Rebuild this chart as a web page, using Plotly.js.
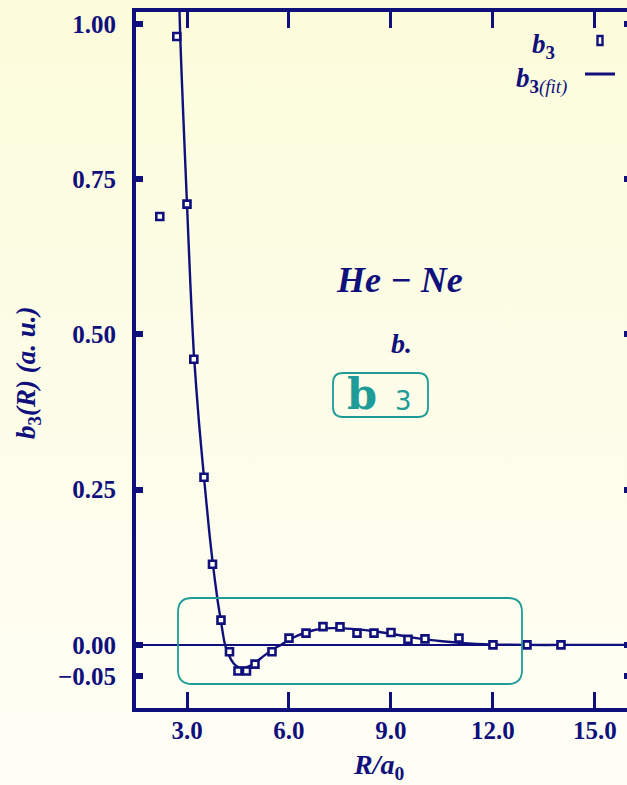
<!DOCTYPE html>
<html>
<head>
<meta charset="utf-8">
<script src="https://cdn.plot.ly/plotly-3.0.1.min.js"></script>
<style>
  html, body { margin: 0; padding: 0; overflow: hidden; width: 627px; height: 785px;
    background: linear-gradient(to bottom, #fcfcdb 0%, #fdfde9 50%, #fefef6 100%); }
  #chart { width: 631px; height: 785px; }
</style>
</head>
<body>
<div id="chart"></div>
<script>
// Computed b3 coefficients for He-Ne versus internuclear distance R (a0)
const R_points = [2.2, 2.7, 3.0, 3.2, 3.5, 3.75, 4.0, 4.25, 4.5, 4.75, 5.0, 5.5, 6.0, 6.5,
                  7.0, 7.5, 8.0, 8.5, 9.0, 9.5, 10.0, 11.0, 12.0, 13.0, 14.0];
const b3_points = [0.69, 0.98, 0.71, 0.46, 0.27, 0.13, 0.04, -0.011, -0.042, -0.042, -0.031,
                   -0.011, 0.011, 0.019, 0.0295, 0.029, 0.019, 0.019, 0.02, 0.009, 0.0097,
                   0.011, 0.0, 0.0, 0.0];

// Fitted b3(R) curve
const R_fit = [2.74, 2.8, 2.9, 3.0, 3.1, 3.2, 3.35, 3.5, 3.65, 3.75, 3.9, 4.0, 4.12, 4.3,
               4.45, 4.6, 4.8, 5.0, 5.25, 5.5, 5.76, 6.0, 6.25, 6.5, 6.75, 7.0, 7.25, 7.5,
               8.0, 8.5, 9.0, 9.5, 10.0, 10.5, 11.0, 11.5, 12.0, 13.0, 14.0, 16.1];
const b3_fit = [1.1, 0.98, 0.84, 0.71, 0.58, 0.47, 0.36, 0.27, 0.185, 0.135, 0.072, 0.038,
                0.0, -0.024, -0.034, -0.037, -0.035, -0.029, -0.018, -0.008, 0.0, 0.008,
                0.015, 0.02, 0.024, 0.026, 0.027, 0.027, 0.025, 0.022, 0.018, 0.013, 0.009,
                0.006, 0.0035, 0.0015, 0.0005, 0.0, 0.0, 0.0];

const xTicks = [3, 6, 9, 12, 15];
const xTickText = ['3.0', '6.0', '9.0', '12.0', '15.0'];
const yTicks = [-0.05, 0, 0.25, 0.5, 0.75, 1.0];
const yTickText = ['\u22120.05', '0.00', '0.25', '0.50', '0.75', '1.00'];

const NAVY = '#10107c';
const TEAL = '#1f9c97';
const SERIF = 'Liberation Serif, Times New Roman, serif';

const W = 631, H = 785;
const M = { l: 136, r: 0, t: 12, b: 77 };
const xRange = [1.5, 16.06];
const yRange = [-0.1016, 1.0194];

// pixel helpers for decorations
const pw = W - M.l - M.r, ph = H - M.t - M.b;
const px2x = p => xRange[0] + (p - M.l) / pw * (xRange[1] - xRange[0]);
const py2y = p => yRange[1] - (p - M.t) / ph * (yRange[1] - yRange[0]);
const px2paper = p => (p - M.l) / pw;
const py2paper = p => (H - M.b - p) / ph;

// rounded rectangle path in data coordinates, from pixel corners and radius
function roundRect(pxa, pya, pxb, pyb, r) {
  const x0 = px2x(pxa), x1 = px2x(pxb), yT = py2y(pya), yB = py2y(pyb);
  const rx = r / pw * (xRange[1] - xRange[0]);
  const ry = r / ph * (yRange[1] - yRange[0]);
  return `M${x0 + rx},${yT} L${x1 - rx},${yT} Q${x1},${yT} ${x1},${yT - ry} ` +
         `L${x1},${yB + ry} Q${x1},${yB} ${x1 - rx},${yB} L${x0 + rx},${yB} ` +
         `Q${x0},${yB} ${x0},${yB + ry} L${x0},${yT - ry} Q${x0},${yT} ${x0 + rx},${yT} Z`;
}

// text placed at a pixel position, centred on it
function label(px, py, text, font, extra) {
  return Object.assign({ xref: 'paper', yref: 'paper', x: px2paper(px), y: py2paper(py),
    xanchor: 'center', yanchor: 'middle', showarrow: false, text: text, font: font }, extra || {});
}

const traces = [
  {
    x: R_fit, y: b3_fit, type: 'scatter', mode: 'lines', name: 'b3(fit)',
    line: { color: NAVY, width: 2.4, shape: 'spline', smoothing: 0.7 },
    hoverinfo: 'skip'
  },
  {
    x: R_points, y: b3_points, type: 'scatter', mode: 'markers', name: 'b3',
    marker: { symbol: 'square', size: 7, color: '#fffff4', line: { color: NAVY, width: 2.6 } },
    cliponaxis: false
  }
];

const axisCommon = {
  showgrid: false, showline: true, linecolor: NAVY, linewidth: 4, mirror: 'ticks',
  ticks: 'inside', tickcolor: NAVY, tickmode: 'array',
  tickfont: { family: SERIF, size: 25, color: NAVY, weight: 'bold' }
};

const layout = {
  width: W, height: H, margin: M,
  paper_bgcolor: 'rgba(0,0,0,0)', plot_bgcolor: 'rgba(0,0,0,0)',
  showlegend: false,
  xaxis: Object.assign({}, axisCommon, {
    range: xRange, tickvals: xTicks, ticktext: xTickText,
    ticklen: 16, tickwidth: 3, zeroline: false, ticklabelstandoff: -3
  }),
  yaxis: Object.assign({}, axisCommon, {
    range: yRange, tickvals: yTicks, ticktext: yTickText,
    ticklen: 7, tickwidth: 6, ticklabelstandoff: 11,
    zeroline: true, zerolinecolor: NAVY, zerolinewidth: 2
  }),
  shapes: [
    { type: 'path', xref: 'x', yref: 'y', path: roundRect(178, 598, 522, 684, 14),
      line: { color: TEAL, width: 1.8 } },
    { type: 'path', xref: 'x', yref: 'y', path: roundRect(333, 373, 428, 417, 10),
      line: { color: TEAL, width: 1.8 } },
    // legend keys
    { type: 'rect', xref: 'paper', yref: 'paper',
      x0: px2paper(597.5), x1: px2paper(602.5), y0: py2paper(45), y1: py2paper(36),
      fillcolor: '#fffff4', line: { color: NAVY, width: 2.4 } },
    { type: 'line', xref: 'paper', yref: 'paper',
      x0: px2paper(585), x1: px2paper(615), y0: py2paper(74), y1: py2paper(74),
      line: { color: NAVY, width: 3 } }
  ],
  annotations: [
    label(399, 280, '<b><i>He \u2212 Ne</i></b>', { family: SERIF, size: 36, color: NAVY }),
    label(401, 343, '<b><i>b.</i></b>', { family: SERIF, size: 28, color: NAVY }),
    label(362, 394, '<b>b</b>', { family: 'DejaVu Serif, serif', size: 43, color: TEAL }),
    label(403, 401, '3', { family: 'DejaVu Sans, sans-serif', size: 26, color: TEAL }),
    label(543, 46, '<b><i>b</i></b><sub><b>3</b></sub>', { family: SERIF, size: 27, color: NAVY }),
    label(541, 80, '<b><i>b</i></b><sub><b>3</b><i>(fit)</i></sub>', { family: SERIF, size: 27, color: NAVY }),
    label(28, 373, '<b><i>b</i></b><sub><b>3</b></sub><b><i>(R) (a. u.)</i></b>',
          { family: SERIF, size: 27, color: NAVY }, { textangle: -90 }),
    label(378, 766, '<b><i>R/a</i></b><sub><b>0</b></sub>', { family: SERIF, size: 28, color: NAVY })
  ]
};

Plotly.newPlot('chart', traces, layout, { displayModeBar: false, staticPlot: true });
</script>
</body>
</html>
